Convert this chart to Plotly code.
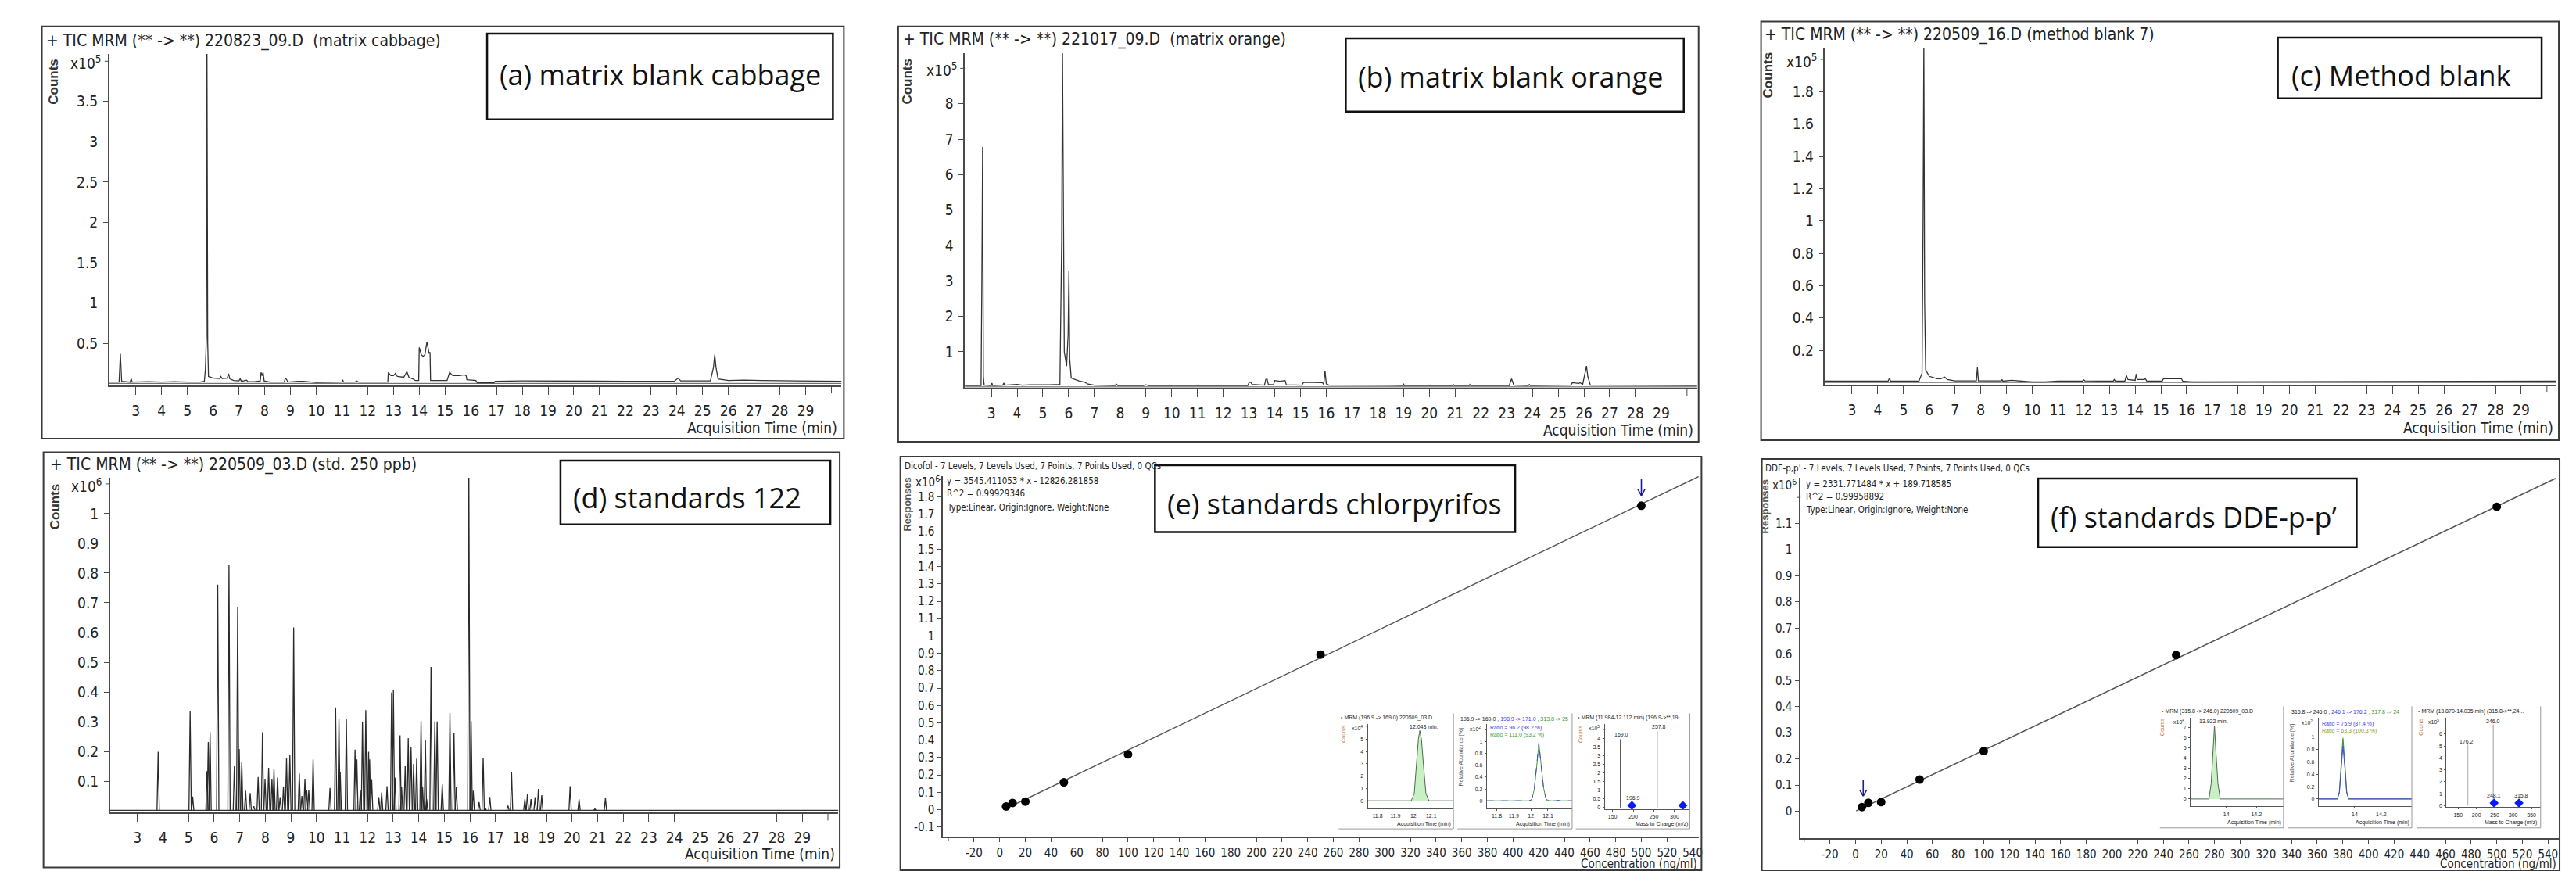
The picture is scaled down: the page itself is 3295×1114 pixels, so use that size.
import plotly.graph_objects as go

W, H = 3295, 1114
NARROW = "Liberation Sans Narrow, Arial Narrow, DejaVu Sans Condensed, sans-serif"
ARIAL = "Liberation Sans, Arial, sans-serif"
LABEL = "Open Sans, Segoe UI, Noto Sans, sans-serif"

# ---------------- data ----------------
# (a) matrix blank cabbage, counts x1e5
a_time = [1.97, 2.35, 2.40, 2.45, 2.78, 2.82, 2.86, 3.5, 4.0, 4.5, 5.0, 5.5, 5.66, 5.70, 5.74, 5.76, 5.79, 5.82,
          6.0, 6.25, 6.3, 6.35, 6.55, 6.6, 6.65, 6.8, 7.0, 7.05, 7.1, 7.3, 7.35, 7.6, 7.83, 7.86, 7.9, 7.94, 7.98,
          8.2, 8.76, 8.8, 8.85, 8.9, 9.3, 9.5, 10.0, 11.0, 11.03, 11.06, 11.5, 11.57, 11.65, 12.78, 12.8, 12.9,
          13.0, 13.08, 13.15, 13.3, 13.4, 13.52, 13.6, 13.75, 13.85, 13.98, 14.0, 14.08, 14.15, 14.22, 14.3,
          14.38, 14.42, 14.44, 15.08, 15.18, 15.3, 15.55, 15.75, 15.82, 15.85, 16.2, 16.25, 16.9, 16.95, 18.0,
          20.0, 22.0, 23.9, 24.05, 24.15, 25.3, 25.42, 25.47, 25.52, 25.6, 26.0, 26.6, 27.3, 30.4]
a_counts = [0.02, 0.02, 0.37, 0.03, 0.02, 0.06, 0.02, 0.025, 0.02, 0.025, 0.02, 0.02, 0.03, 0.18, 0.6, 4.3, 0.5, 0.09,
            0.07, 0.065, 0.09, 0.065, 0.07, 0.125, 0.06, 0.04, 0.035, 0.06, 0.03, 0.045, 0.025, 0.025, 0.035, 0.14,
            0.10, 0.14, 0.035, 0.02, 0.02, 0.065, 0.055, 0.02, 0.03, 0.03, 0.015, 0.02, 0.05, 0.02, 0.02, 0.035,
            0.02, 0.02, 0.14, 0.10, 0.10, 0.13, 0.09, 0.085, 0.08, 0.15, 0.08, 0.06, 0.04, 0.04, 0.45, 0.36, 0.34,
            0.36, 0.52, 0.38, 0.39, 0.04, 0.04, 0.14, 0.10, 0.10, 0.11, 0.10, 0.05, 0.04, 0.01, 0.01, 0.03, 0.035,
            0.03, 0.03, 0.03, 0.07, 0.035, 0.035, 0.2, 0.36, 0.2, 0.06, 0.04, 0.045, 0.04, 0.03]
a_base_time = [1.97, 30.4]
a_base_counts = [0.004, 0.004]

# (b) matrix blank orange, counts x1e5
b_time = [1.97, 2.6, 2.63, 2.66, 2.69, 2.72, 3.0, 3.02, 3.05, 3.45, 3.48, 3.52, 4.0, 4.2, 4.5, 5.0, 5.25, 5.66,
          5.70, 5.73, 5.76, 5.79, 5.83, 5.92, 5.98, 6.01, 6.04, 6.1, 6.25, 6.4, 6.6, 6.75, 7.0, 7.8, 7.85, 7.9,
          8.9, 9.0, 9.1, 12.95, 13.0, 13.06, 13.12, 13.6, 13.65, 13.7, 13.75, 13.95, 14.0, 14.2, 14.4, 14.45,
          15.05, 15.12, 15.85, 15.9, 15.95, 16.0, 16.1, 18.98, 19.0, 19.02, 20.9, 20.93, 20.96, 21.55, 21.57,
          21.6, 23.1, 23.19, 23.28, 23.85, 23.88, 23.92, 25.5, 25.55, 25.8, 25.85, 25.95, 26.05, 26.1, 26.15,
          26.25, 30.4]
b_counts = [0.05, 0.05, 3.0, 6.78, 0.3, 0.06, 0.05, 0.12, 0.05, 0.06, 0.12, 0.06, 0.08, 0.06, 0.07, 0.06, 0.07,
            0.08, 2.0, 4.2, 9.6, 4.2, 1.0, 0.6, 1.5, 3.29, 0.8, 0.26, 0.22, 0.18, 0.15, 0.09, 0.06, 0.05, 0.09,
            0.05, 0.05, 0.07, 0.05, 0.05, 0.13, 0.15, 0.08, 0.06, 0.22, 0.23, 0.08, 0.07, 0.19, 0.17, 0.19, 0.07,
            0.06, 0.14, 0.13, 0.08, 0.46, 0.10, 0.06, 0.05, 0.10, 0.05, 0.05, 0.08, 0.05, 0.05, 0.08, 0.05, 0.05,
            0.24, 0.06, 0.05, 0.08, 0.05, 0.06, 0.13, 0.11, 0.13, 0.08, 0.40, 0.60, 0.30, 0.06, 0.05]
b_base_time = [1.97, 30.4]
b_base_counts = [0.01, 0.01]

# (c) method blank, counts x1e5
c_time = [1.95, 4.4, 4.45, 4.5, 5.6, 5.72, 5.76, 5.79, 5.82, 5.86, 6.0, 6.2, 6.3, 6.45, 6.6, 6.7, 7.0, 7.83,
          7.87, 7.91, 8.8, 8.83, 8.86, 9.2, 9.5, 10.0, 10.5, 11.0, 11.95, 12.0, 12.05, 13.15, 13.19, 13.23,
          13.6, 13.66, 13.72, 14.0, 14.04, 14.08, 14.35, 14.4, 14.45, 15.05, 15.1, 15.8, 15.85, 16.2, 30.4]
c_counts = [0.01, 0.01, 0.028, 0.01, 0.01, 0.06, 1.0, 2.12, 0.5, 0.08, 0.04, 0.03, 0.025, 0.025, 0.035, 0.02,
            0.012, 0.012, 0.094, 0.012, 0.012, 0.02, 0.01, 0.015, 0.01, 0.005, 0.005, 0.01, 0.01, 0.018, 0.012,
            0.01, 0.02, 0.01, 0.01, 0.045, 0.02, 0.015, 0.054, 0.02, 0.02, 0.025, 0.01, 0.01, 0.025, 0.025,
            0.01, 0.005, 0.01]
c_base_time = [1.95, 30.4]
c_base_counts = [0.002, 0.002]

# (d) standards 122 (std. 250 ppb): peak apex times and heights, counts x1e6
d_peak_time = [3.81, 5.06, 5.16, 5.72, 5.77, 5.84, 6.14, 6.58, 6.79, 6.92, 6.98, 7.08, 7.23, 7.41, 7.55, 7.72,
               7.89, 7.99, 8.13, 8.26, 8.34, 8.48, 8.58, 8.71, 8.83, 8.96, 9.11, 9.33, 9.43, 9.55, 9.62, 9.70,
               9.87, 10.53, 10.75, 10.88, 10.93, 11.17, 11.51, 11.58, 11.72, 11.80, 11.93, 12.04, 12.08, 12.16,
               12.44, 12.55, 12.76, 12.94, 13.01, 13.07, 13.27, 13.33, 13.47, 13.59, 13.70, 13.80, 13.92, 14.09,
               14.15, 14.26, 14.31, 14.48, 14.63, 14.72, 14.92, 15.22, 15.38, 15.47, 15.96, 16.05, 16.13, 16.36,
               16.52, 16.60, 16.78, 17.49, 17.63, 18.15, 18.25, 18.39, 18.55, 18.68, 18.81, 19.92, 20.27, 20.89,
               21.30]
d_peak_height = [0.199, 0.335, 0.048, 0.134, 0.232, 0.265, 0.761, 0.827, 0.150, 0.687, 0.208, 0.166, 0.068,
                 0.060, 0.016, 0.114, 0.265, 0.108, 0.145, 0.108, 0.140, 0.112, 0.046, 0.081, 0.178, 0.188,
                 0.617, 0.126, 0.050, 0.108, 0.070, 0.070, 0.173, 0.077, 0.348, 0.309, 0.131, 0.311, 0.206,
                 0.173, 0.070, 0.298, 0.339, 0.199, 0.173, 0.107, 0.046, 0.062, 0.083, 0.398, 0.407, 0.112,
                 0.254, 0.080, 0.150, 0.245, 0.214, 0.158, 0.176, 0.302, 0.080, 0.237, 0.040, 0.484, 0.301,
                 0.301, 0.090, 0.329, 0.263, 0.080, 1.150, 0.302, 0.068, 0.030, 0.178, 0.010, 0.047, 0.018,
                 0.131, 0.040, 0.056, 0.040, 0.046, 0.074, 0.053, 0.083, 0.039, 0.007, 0.044]
d_base_time = [1.93, 30.41]
d_base_counts = [0.002, 0.002]

# (e) calibration chlorpyrifos (panel title Dicofol): responses x1e6
e_conc = [5, 10, 20, 50, 100, 250, 500]
e_resp = [0.019, 0.039, 0.047, 0.158, 0.319, 0.893, 1.750]
e_fit_conc = [3, 545]
e_fit_resp = [0.0, 1.919]
# (f) calibration DDE-p,p'
f_conc = [5, 10, 20, 50, 100, 250, 500]
f_resp = [0.016, 0.032, 0.035, 0.121, 0.230, 0.597, 1.164]
f_fit_conc = [0.5, 546]
f_fit_resp = [0.001, 1.273]

# (e) insets
e1_time = [11.746, 11.988, 12.005, 12.017, 12.028, 12.036, 12.045, 12.057, 12.07, 12.087, 12.224]
e1_counts = [0, 0, 0.6, 2.8, 5.0, 5.68, 5.0, 2.8, 0.6, 0, 0]          # x1e4
e2_time = [11.742, 11.99, 12.005, 12.02, 12.035, 12.047, 12.06, 12.075, 12.09, 12.11, 12.15, 12.16, 12.17, 12.242]
e2_blue = [0, 0, 0.02, 0.2, 0.62, 0.99, 0.6, 0.2, 0.02, 0, 0, 0.01, 0, 0]   # x1e2 %
e2_green = [0, 0, 0.02, 0.19, 0.6, 0.97, 0.62, 0.21, 0.02, 0, 0, 0, 0, 0]
e3_mz = [169.0, 257.8]
e3_counts = [3.94, 4.39]                                                     # x1e5
e3_ion_mz = [196.9, 320.0]
e3_ion_counts = [0.12, 0.12]
# (f) insets
f1_time = [13.764, 13.885, 13.9, 13.912, 13.922, 13.932, 13.945, 13.96, 14.379]
f1_counts = [0, 0, 1.5, 4.5, 7.2, 4.5, 1.5, 0, 0]                          # x1e4
f2_time = [13.729, 13.87, 13.885, 13.897, 13.912, 13.927, 13.94, 13.955, 14.43]
f2_green = [0, 0, 0.12, 0.55, 0.99, 0.55, 0.12, 0, 0]
f2_blue = [0, 0, 0.1, 0.48, 0.86, 0.48, 0.1, 0, 0]
f3_mz = [176.2, 246.0]
f3_counts = [5.12, 6.8]                                                      # x1e5
f3_ion_mz = [248.1, 315.8]
f3_ion_counts = [0.22, 0.22]

chrom_ticks = list(range(3, 31))
chrom_ticktext = [str(v) for v in range(3, 30)] + [""]

# ---------------- helpers ----------------
def X(px):
    return px / W

def Y(py):
    return 1 - py / H

def fmt(v):
    v = round(v, 3)
    return f"{v:g}"

layout = dict(width=W, height=H, margin=dict(l=0, r=0, t=0, b=0), paper_bgcolor="white",
              plot_bgcolor="rgba(0,0,0,0)", showlegend=False)
traces = []
annotations = []
shapes = []


def axref(n):
    return ("x", "y") if n == 1 else (f"x{n}", f"y{n}")


def add_axes(n, xd, yd, xr, yr, xt, xtt, yt, ytt, xfs, yfs, xlen, ylen, xfam=NARROW, yfam=NARROW,
             xlw=1.5, ylw=1.5, xstand=3, ystand=3, lc="#4a4a4a"):
    xs = "xaxis" if n == 1 else f"xaxis{n}"
    ys = "yaxis" if n == 1 else f"yaxis{n}"
    xa, ya = axref(n)
    # ticks whose label is blank are drawn as plain tick marks (shapes)
    xt_l = [v for v, s in zip(xt, xtt) if s != ""]
    xtt_l = [s for s in xtt if s != ""]
    yt_l = [v for v, s in zip(yt, ytt) if s != ""]
    ytt_l = [s for s in ytt if s != ""]
    for v, s in zip(xt, xtt):
        if s == "":
            shapes.append(dict(type="line", xref=xa, yref="paper", x0=v, x1=v, y0=Y(yd[1]),
                               y1=Y(yd[1] + xlen), line=dict(color=lc, width=1), layer="above"))
    for v, s in zip(yt, ytt):
        if s == "":
            shapes.append(dict(type="line", xref="paper", yref=ya, x0=X(xd[0] - ylen), x1=X(xd[0]), y0=v,
                               y1=v, line=dict(color=lc, width=1), layer="above"))
    layout[xs] = dict(domain=[X(xd[0]), X(xd[1])], range=list(xr), anchor=ya, showline=True, linecolor=lc,
                      linewidth=xlw, ticks="outside", ticklen=xlen, tickwidth=1, tickcolor=lc, tickmode="array",
                      tickvals=xt_l, ticktext=xtt_l, tickfont=dict(family=xfam, size=xfs, color="#222"),
                      showgrid=False, zeroline=False, fixedrange=True, ticklabelstandoff=xstand)
    layout[ys] = dict(domain=[Y(yd[1]), Y(yd[0])], range=list(yr), anchor=xa, showline=True, linecolor=lc,
                      linewidth=ylw, ticks="outside", ticklen=ylen, tickwidth=1, tickcolor=lc, tickmode="array",
                      tickvals=yt_l, ticktext=ytt_l, tickfont=dict(family=yfam, size=yfs, color="#222"),
                      showgrid=False, zeroline=False, fixedrange=True, ticklabelstandoff=ystand)


def line(n, x, y, color="#333", width=1.3, dash="solid", **kw):
    xa, ya = axref(n)
    traces.append(go.Scatter(x=x, y=y, xaxis=xa, yaxis=ya, mode="lines",
                             line=dict(color=color, width=width, dash=dash),
                             hoverinfo="skip", showlegend=False, **kw))


def ann(text, x, y, size, family=NARROW, color="#222", xanchor="left", yanchor="middle", angle=0):
    annotations.append(dict(text=text, x=X(x), y=Y(y), xref="paper", yref="paper", showarrow=False,
                            xanchor=xanchor, yanchor=yanchor, textangle=angle, borderpad=0,
                            font=dict(family=family, size=size, color=color)))


def rect(x0, y0, x1, y1, color="#333", width=2):
    shapes.append(dict(type="rect", xref="paper", yref="paper", x0=X(x0), x1=X(x1), y0=Y(y1), y1=Y(y0),
                       line=dict(color=color, width=width), fillcolor="rgba(0,0,0,0)", layer="above"))


def seg(x0, y0, x1, y1, color="#999", width=1):
    shapes.append(dict(type="line", xref="paper", yref="paper", x0=X(x0), x1=X(x1), y0=Y(y0), y1=Y(y1),
                       line=dict(color=color, width=width), layer="above"))


# ---------------- chromatograms (a)-(d) ----------------
def chrom(n, xd, yd, xr, yr, yt, title, tx, ty, counts_xy, exp_text, exp_xy, axis_title_xy, frame, box, box_text,
          box_text_xy):
    ytt = [fmt(v) for v in yt[:-1]] + [""]
    add_axes(n, xd, yd, xr, yr, chrom_ticks, chrom_ticktext, yt, ytt, 19, 19, 10, 6, xlw=2, ylw=1.5,
             xstand=4, ystand=3)
    ann(title, tx, ty, 21)
    ann("<b>Counts</b>", counts_xy[0], counts_xy[1], 17, family=ARIAL, color="#333", xanchor="center",
        yanchor="middle", angle=-90)
    ann(exp_text, exp_xy[0], exp_xy[1], 19, xanchor="right")
    ann("Acquisition Time (min)", axis_title_xy[0], axis_title_xy[1], 19, xanchor="right")
    rect(*frame, color="#3a3a3a", width=2)
    rect(*box, color="#111", width=2.5)
    ann(box_text, box_text_xy[0], box_text_xy[1], 36, family=LABEL, color="#111")


chrom(1, (132, 1070), (61, 486), (1.97, 30.39), (-0.023, 4.091), [0.5, 1, 1.5, 2, 2.5, 3, 3.5, 4],
      "+ TIC MRM (** -&gt; **) 220823_09.D\u00a0 (matrix cabbage)", 50, 45, (61, 96),
      "x10<sup>5</sup>", (122, 72), (1066, 540), (45.6, 25.8, 1073, 554), (616, 35, 1059, 145),
      "(a) matrix blank cabbage", (631, 88))
line(1, a_base_time, a_base_counts, color="#555", width=1)
line(1, a_time, a_counts)

chrom(2, (1228, 2166), (60, 489), (1.97, 30.39), (-0.018, 9.43), [1, 2, 3, 4, 5, 6, 7, 8, 9],
      "+ TIC MRM (** -&gt; **) 221017_09.D\u00a0 (matrix orange)", 1147.5, 43, (1154.5, 96),
      "x10<sup>5</sup>", (1219, 81), (2162, 543), (1142.6, 25.8, 2168, 558), (1716, 41, 2149, 135),
      "(b) matrix blank orange", (1731, 91))
line(2, b_base_time, b_base_counts, color="#555", width=1)
line(2, b_time, b_counts)

chrom(3, (2330, 3266), (54, 485), (1.951, 30.34), (-0.0125, 2.068),
      [0.2, 0.4, 0.6, 0.8, 1.0, 1.2, 1.4, 1.6, 1.8, 2.0],
      "+ TIC MRM (** -&gt; **) 220509_16.D (method blank 7)", 2251, 37, (2257, 88),
      "x10<sup>5</sup>", (2321, 70), (3264, 540), (2248, 19.6, 3270, 556), (2910, 40, 3248, 118),
      "(c) Method blank", (2926, 89))
line(3, c_base_time, c_base_counts, color="#555", width=1)
line(3, c_time, c_counts)

chrom(4, (133, 1066), (604, 1033.3), (1.93, 30.41), (-0.006, 1.121),
      [0.1, 0.2, 0.3, 0.4, 0.5, 0.6, 0.7, 0.8, 0.9, 1.0, 1.1],
      "+ TIC MRM (** -&gt; **) 220509_03.D (std. 250 ppb)", 54.7, 588, (62.5, 641),
      "x10<sup>6</sup>", (123, 614), (1063, 1086), (47.7, 571.6, 1067.7, 1103.6), (710, 582, 1055.7, 664),
      "(d) standards 122", (725, 630))
d_x, d_y = [], []
for t, h in zip(d_peak_time, d_peak_height):
    d_x += [t - 0.045, t, t + 0.045, None]
    d_y += [d_base_counts[0], h, d_base_counts[0], None]
line(4, d_base_time, d_base_counts, color="#333", width=1.3)
line(4, d_x, d_y, color="#2a2a2a", width=1.3)

# ---------------- calibration (e), (f) ----------------
def down_arrow(n, xval, y_tail, y_tip, xpx_per_unit, color="#1c1c8a"):
    xa, _ = axref(n)
    half = 4.5 / xpx_per_unit
    for (x0, y0, x1, y1) in [(xval, y_tail, xval, y_tip), (xval - half, y_tip - 8, xval, y_tip),
                             (xval + half, y_tip - 8, xval, y_tip)]:
        shapes.append(dict(type="line", xref=xa, yref="paper", x0=x0, x1=x1, y0=Y(y0), y1=Y(y1),
                           line=dict(color=color, width=1.6), layer="above"))


def calib(n, xd, yd, xr, yr, yt, conc, resp, fit_x, fit_y, title, tx, ty, eq, eq_x, eq_y, resp_xy, exp_xy,
          axis_title_xy, frame, box, box_text, box_text_xy):
    xt = list(range(-40, 541, 20))
    xtt = [""] + [str(v) for v in range(-20, 541, 20)]
    ytt = [fmt(v) for v in yt[:-1]] + [""]
    add_axes(n, xd, yd, xr, yr, xt, xtt, yt, ytt, 15, 15, 5, 5, xlw=2, ylw=1.5, xstand=1, ystand=1)
    line(n, fit_x, fit_y, color="#555", width=1.5)
    xa, ya = axref(n)
    traces.append(go.Scatter(x=conc, y=resp, xaxis=xa, yaxis=ya, mode="markers",
                             marker=dict(color="black", size=11, symbol="circle"), hoverinfo="skip",
                             showlegend=False))
    ann(title, tx, ty, 11.5)
    for i, s in enumerate(eq):
        ann(s, eq_x, eq_y[i], 11.5)
    ann("<b>Responses</b>", resp_xy[0], resp_xy[1], 13, family=ARIAL, color="#555", xanchor="center",
        angle=-90)
    ann("x10<sup>6</sup>", exp_xy[0], exp_xy[1], 15, xanchor="right")
    ann("Concentration (ng/ml)", axis_title_xy[0], axis_title_xy[1], 15, xanchor="right")
    rect(*frame, color="#3a3a3a", width=2)
    rect(*box, color="#111", width=2.5)
    ann(box_text, box_text_xy[0], box_text_xy[1], 36, family=LABEL, color="#111")


calib(5, (1200, 2168), (602, 1064), (-44.2, 544.6), (-0.155, 1.9205),
      [-0.1] + [round(0.1 * i, 1) for i in range(0, 20)], e_conc, e_resp, e_fit_conc, e_fit_resp,
      "Dicofol - 7 Levels, 7 Levels Used, 7 Points, 7 Points Used, 0 QCs", 1149.6, 589,
      ["y = 3545.411053 * x - 12826.281858", "R^2 = 0.99929346", "Type:Linear, Origin:Ignore, Weight:None"],
      1203.7, [608, 624.6, 642], (1154.5, 638), (1197, 609), (2167, 1099),
      (1145.4, 577, 2171.7, 1107), (1471.6, 588, 1933, 673.7), "(e) standards chlorpyrifos", (1486, 638))
down_arrow(5, 500, 606, 627, 1.645)

calib(6, (2298.7, 3270), (604, 1065.5), (-42.8, 548.4), (-0.102, 1.2755),
      [round(0.1 * i, 1) for i in range(0, 13)], f_conc, f_resp, f_fit_conc, f_fit_resp,
      "DDE-p,p' - 7 Levels, 7 Levels Used, 7 Points, 7 Points Used, 0 QCs", 2252, 592,
      ["y = 2331.771484 * x + 189.718585", "R^2 = 0.99958892", "Type:Linear, Origin:Ignore, Weight:None"],
      2304.7, [612, 628, 645], (2253, 641), (2294, 613), (3268, 1099),
      (2249, 580, 3271, 1108), (2603, 605, 3011, 693), "(f) standards DDE-p-p\u2019", (2618, 655))
down_arrow(6, 6, 991, 1012, 1.643)

# ---------------- insets ----------------
TINY = 7
def inset_axes(n, xd, yd, xr, yr, xt, xtt, yt, ytt):
    add_axes(n, xd, yd, xr, yr, xt, xtt, yt, ytt, TINY, TINY, 2, 2, xfam=ARIAL, yfam=ARIAL, xlw=1, ylw=1,
             xstand=1, ystand=1, lc="#555")


# (e)1
inset_axes(7, (1744.3, 1854), (920, 1027.7), (11.746, 12.224), (-0.614, 6.2), [11.8, 11.9, 12.0, 12.1],
           ["11.8", "11.9", "12", "12.1"], [0, 1, 2, 3, 4, 5, 6], ["0", "1", "2", "3", "4", "5", ""])
line(7, e1_time, e1_counts, color="#4b6b4b", width=1, fill="tozeroy", fillcolor="#c9efc4")
# (e)2
inset_axes(8, (1896.7, 2006), (920, 1027.7), (11.742, 12.242), (-0.128, 1.295), [11.8, 11.9, 12.0, 12.1],
           ["11.8", "11.9", "12", "12.1"], [0, 0.2, 0.4, 0.6, 0.8, 1.0, 1.2],
           ["0", "0.2", "0.4", "0.6", "0.8", "1", ""])
line(8, e2_time, e2_green, color="#3c9a3c", width=1)
line(8, e2_time, e2_blue, color="#4848d8", width=1, dash="dash")
# (e)3
inset_axes(9, (2047.7, 2156.7), (920, 1028.9), (131.1, 336.8), (-0.1, 4.806), [150, 200, 250, 300],
           ["150", "200", "250", "300"], [0, 0.5, 1, 1.5, 2, 2.5, 3, 3.5, 4, 4.5],
           ["0", "0.5", "1", "1.5", "2", "2.5", "3", "3.5", "4", ""])
bx, by = [], []
for m, c in zip(e3_mz, e3_counts):
    bx += [m, m, None]
    by += [0, c, None]
line(9, bx, by, color="#555", width=1.2)
xa9, ya9 = axref(9)
traces.append(go.Scatter(x=e3_ion_mz, y=e3_ion_counts, xaxis=xa9, yaxis=ya9, mode="markers",
                         marker=dict(color="#0a1aff", size=9, symbol="diamond"), hoverinfo="skip",
                         showlegend=False, cliponaxis=False))
# (f)1
inset_axes(10, (2798.3, 2917.3), (911.7, 1025), (13.764, 14.379), (-0.71, 7.96), [14.0, 14.2], ["14", "14.2"],
           [0, 1, 2, 3, 4, 5, 6, 7], ["0", "1", "2", "3", "4", "5", "6", "7"])
line(10, f1_time, f1_counts, color="#4b6b4b", width=1, fill="tozeroy", fillcolor="#c9efc4")
# (f)2
inset_axes(11, (2962.3, 3081.7), (911.7, 1025), (13.729, 14.43), (-0.118, 1.316), [14.0, 14.2], ["14", "14.2"],
           [0, 0.2, 0.4, 0.6, 0.8, 1.0], ["0", "0.2", "0.4", "0.6", "0.8", "1"])
line(11, f2_time, f2_green, color="#3c9a3c", width=1.2)
line(11, f2_time, f2_blue, color="#4848d8", width=1)
# (f)3
inset_axes(12, (3126, 3246.7), (911.7, 1026), (118.1, 374.9), (-0.11, 7.36), [150, 200, 250, 300, 350],
           ["150", "200", "250", "300", "350"], [0, 1, 2, 3, 4, 5, 6, 7], ["0", "1", "2", "3", "4", "5", "6", ""])
bx, by = [], []
for m, c in zip(f3_mz, f3_counts):
    bx += [m, m, None]
    by += [0, c, None]
line(12, bx, by, color="#bdbdbd", width=1.5)
xa12, ya12 = axref(12)
traces.append(go.Scatter(x=f3_ion_mz, y=f3_ion_counts, xaxis=xa12, yaxis=ya12, mode="markers",
                         marker=dict(color="#0a1aff", size=9, symbol="diamond"), hoverinfo="skip",
                         showlegend=False, cliponaxis=False))

# inset frames and texts
RED = "<span style='color:#d04040'>\u2022</span> "
BLUE = "#3a3ae0"
GREEN = "#3a9a3a"
OLIVE = "#8a9a20"
for (l, r) in [(1707, 1854), (1859, 2006), (2010.7, 2156.7)]:
    seg(l, 1054, r, 1054)
    seg(r, 906, r, 1054)
for (l, r) in [(2759, 2917.3), (2923.3, 3081.7), (3087.7, 3246.7)]:
    seg(l, 1052.7, r, 1052.7)
    seg(r, 897, r, 1052.7)

# (e) inset texts
ann(RED + "MRM (196.9 -&gt; 169.0) 220509_03.D", 1709, 912, TINY, family=ARIAL)
ann("Counts", 1713, 932, TINY, family=ARIAL, color="#c0703c", xanchor="center", angle=-90)
ann("x10<sup>4</sup>", 1739, 925, TINY, family=ARIAL, xanchor="right")
ann("12.043 min.", 1797, 923, TINY, family=ARIAL)
ann("Acquisition Time (min)", 1852, 1047.7, TINY, family=ARIAL, xanchor="right")
ann("196.9 -&gt; 169.0 <span style='color:%s'>, 198.9 -&gt; 171.0</span> <span style='color:%s'>, 313.8 -&gt; 25</span>"
    % (BLUE, GREEN), 1862, 912.7, TINY, family=ARIAL)
ann("Relative Abundance [%]", 1864, 962, TINY, family=ARIAL, color="#555", xanchor="center", angle=-90)
ann("x10<sup>2</sup>", 1890, 926, TINY, family=ARIAL, xanchor="right")
ann("Ratio = 96.2 (98.2 %)", 1900, 925, TINY, family=ARIAL, color=BLUE)
ann("Ratio = 111.0 (93.2 %)", 1900, 934, TINY, family=ARIAL, color=GREEN)
ann("Acquisition Time (min)", 2004, 1047.7, TINY, family=ARIAL, xanchor="right")
ann(RED + "MRM (11.984-12.112 min) (196.9-&gt;**,19...", 2012, 912, TINY, family=ARIAL)
ann("Counts", 2016.7, 932, TINY, family=ARIAL, color="#c0703c", xanchor="center", angle=-90)
ann("x10<sup>5</sup>", 2042, 925, TINY, family=ARIAL, xanchor="right")
ann("169.0", 2069, 933.5, TINY, family=ARIAL, xanchor="center")
ann("257.8", 2117, 923.5, TINY, family=ARIAL, xanchor="center")
ann("196.9", 2084, 1014, TINY, family=ARIAL, xanchor="center")
ann("Mass to Charge (m/z)", 2155, 1047.7, TINY, family=ARIAL, xanchor="right")

# (f) inset texts
ann(RED + "MRM (315.8 -&gt; 246.0) 220509_03.D", 2760, 904, TINY, family=ARIAL)
ann("Counts", 2762, 923, TINY, family=ARIAL, color="#c0703c", xanchor="center", angle=-90)
ann("x10<sup>4</sup>", 2791, 917, TINY, family=ARIAL, xanchor="right")
ann("13.922 min.", 2808, 916, TINY, family=ARIAL)
ann("Acquisition Time (min)", 2915, 1046, TINY, family=ARIAL, xanchor="right")
ann("315.8 -&gt; 246.0 <span style='color:%s'>, 246.1 -&gt; 176.2</span> <span style='color:%s'>, 317.8 -&gt; 24</span>"
    % (BLUE, GREEN), 2926, 904, TINY, family=ARIAL)
ann("Relative Abundance [%]", 2928.3, 957, TINY, family=ARIAL, color="#555", xanchor="center", angle=-90)
ann("x10<sup>2</sup>", 2955, 918, TINY, family=ARIAL, xanchor="right")
ann("Ratio = 75.9 (87.4 %)", 2965, 919.3, TINY, family=ARIAL, color=BLUE)
ann("Ratio = 63.3 (100.3 %)", 2965, 928.3, TINY, family=ARIAL, color=OLIVE)
ann("Acquisition Time (min)", 3080, 1046, TINY, family=ARIAL, xanchor="right")
ann(RED + "MRM (13.870-14.035 min) (315.8-&gt;**,24...", 3089, 904, TINY, family=ARIAL)
ann("Counts", 3093, 923, TINY, family=ARIAL, color="#c0703c", xanchor="center", angle=-90)
ann("x10<sup>5</sup>", 3118, 917, TINY, family=ARIAL, xanchor="right")
ann("176.2", 3152, 941.7, TINY, family=ARIAL, xanchor="center")
ann("246.0", 3186, 916, TINY, family=ARIAL, xanchor="center")
ann("248.1", 3187, 1011.7, TINY, family=ARIAL, xanchor="center")
ann("315.8", 3221.7, 1011.7, TINY, family=ARIAL, xanchor="center")
ann("Mass to Charge (m/z)", 3243, 1046, TINY, family=ARIAL, xanchor="right")

layout["annotations"] = annotations
layout["shapes"] = shapes
fig = go.Figure(data=traces, layout=layout)
fig.write_html("out.html", config={"displayModeBar": False})
